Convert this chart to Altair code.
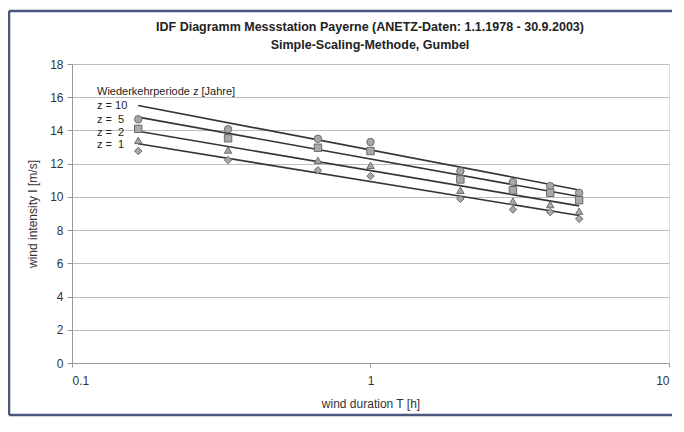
import altair as alt
import pandas as pd

# durations in hours (10 min, 20 min, 40 min, 1h, 2h, 3h, 4h, 5h)
durations = [1/6, 1/3, 2/3, 1, 2, 3, 4, 5]
z_labels = ["z = 10", "z = 5", "z = 2", "z = 1"]
pts_z10 = [14.67, 14.07, 13.50, 13.30, 11.55, 10.90, 10.65, 10.25]
pts_z5 = [14.10, 13.53, 12.96, 12.76, 11.05, 10.40, 10.25, 9.80]
pts_z2 = [13.40, 12.82, 12.20, 11.90, 10.40, 9.74, 9.54, 9.14]
pts_z1 = [12.76, 12.22, 11.60, 11.25, 9.88, 9.24, 9.08, 8.68]

line_T = [1/6, 5]
line_z10 = [15.50, 10.42]
line_z5 = [14.80, 10.02]
line_z2 = [13.95, 9.46]
line_z1 = [13.20, 8.88]

y_ticks = [0, 2, 4, 6, 8, 10, 12, 14, 16, 18]
x_ticks = [0.1, 1, 10]

chart_title = ["IDF Diagramm Messstation Payerne (ANETZ-Daten: 1.1.1978 - 30.9.2003)",
               "Simple-Scaling-Methode, Gumbel"]
legend_title = ["Wiederkehrperiode z [Jahre]"]
legend_items = ["z = 10", "z =\u00a0\u00a05", "z =\u00a0\u00a02", "z =\u00a0\u00a01"]

shapes = ["circle", "square", "triangle-up", "diamond"]

pts_rows = []
for z, vals in zip(z_labels, [pts_z10, pts_z5, pts_z2, pts_z1]):
    for t, v in zip(durations, vals):
        pts_rows.append({"T": t, "I": v, "z": z})
pts = pd.DataFrame(pts_rows)

line_rows = []
for z, vals in zip(z_labels, [line_z10, line_z5, line_z2, line_z1]):
    for t, v in zip(line_T, vals):
        line_rows.append({"T": t, "I": v, "z": z})
lines = pd.DataFrame(line_rows)

FONT = "Liberation Sans"

xs = alt.Scale(type="log", domain=[0.1, 10], nice=False)
ys = alt.Scale(domain=[0, 18], nice=False, zero=True)

x_axis = alt.Axis(values=x_ticks, format="~g", grid=False,
                  labelFontSize=12, titleFontSize=12,
                  labelPadding=8, titlePadding=12,
                  tickSize=4, domainColor="#999999", tickColor="#999999",
                  labelColor="#333333", titleColor="#333333",
                  titleFontWeight="normal", labelFont=FONT, titleFont=FONT)
y_axis = alt.Axis(values=y_ticks, grid=True, gridColor="#bdbdbd",
                  labelFontSize=12, titleFontSize=12, labelPadding=4,
                  titlePadding=10, tickSize=5, domainColor="#999999",
                  tickColor="#999999", labelColor="#333333", labelOverlap=False,
                  titleColor="#333333", titleFontWeight="normal",
                  labelFont=FONT, titleFont=FONT)

x_enc = alt.X("T:Q", scale=xs, title="wind duration T [h]", axis=x_axis)
y_enc = alt.Y("I:Q", scale=ys, title="wind intensity I [m/s]", axis=y_axis)

line_layer = alt.Chart(lines).mark_line(color="#3a3232", strokeWidth=1.6).encode(
    x=x_enc, y=y_enc, detail="z:N")

pt_layer = alt.Chart(pts).mark_point(filled=True, fill="#a8a8a8", stroke="#6a6a6a",
                                      strokeWidth=1, opacity=1, size=55).encode(
    x=x_enc, y=y_enc,
    shape=alt.Shape("z:N", scale=alt.Scale(domain=z_labels, range=shapes), legend=None))

title_df = pd.DataFrame({"t": chart_title, "py": [-37, -19]})
title_layer = alt.Chart(title_df).mark_text(
    align="center", baseline="middle", fontSize=12.5, fontWeight="bold",
    font=FONT, color="#222222").encode(
    x=alt.value(298), y=alt.Y("py:Q", scale=None), text="t:N")

leg_title_layer = alt.Chart(pd.DataFrame({"t": legend_title})).mark_text(
    align="left", baseline="middle", fontSize=11, font=FONT, color="#222222").encode(
    x=alt.value(25), y=alt.value(28), text="t:N")

items_df = pd.DataFrame({"t": legend_items, "py": [42, 56, 69, 81]})
items_layer = alt.Chart(items_df).mark_text(
    align="left", baseline="middle", fontSize=11, font=FONT, color="#222222").encode(
    x=alt.value(25), y=alt.Y("py:Q", scale=None), text="t:N")

BCOL = "#4a5580"
frame_top = alt.Chart(pd.DataFrame({"a": [0]})).mark_rule(
    color=BCOL, strokeWidth=2.5, clip=False).encode(
    x=alt.value(-63), x2=alt.value(600), y=alt.value(-53))
frame_left = alt.Chart(pd.DataFrame({"a": [0]})).mark_rule(
    color=BCOL, strokeWidth=2.5, clip=False).encode(
    x=alt.value(-63), y=alt.value(-53), y2=alt.value(351))
frame_bottom = alt.Chart(pd.DataFrame({"a": [0]})).mark_rule(
    color=BCOL, strokeWidth=2.5, clip=False).encode(
    x=alt.value(-63), x2=alt.value(600), y=alt.value(351))

chart = alt.layer(frame_top, frame_left, frame_bottom, line_layer, pt_layer,
                  title_layer, leg_title_layer, items_layer).properties(
    width=597, height=299,
    autosize=alt.AutoSizeParams(type="none"),
    padding={"left": 64, "top": 56, "right": 3, "bottom": 54},
).configure_view(stroke="#999999", strokeWidth=1).configure(background="white")

chart.save("out.html", embed_options={"renderer": "svg", "actions": False})
